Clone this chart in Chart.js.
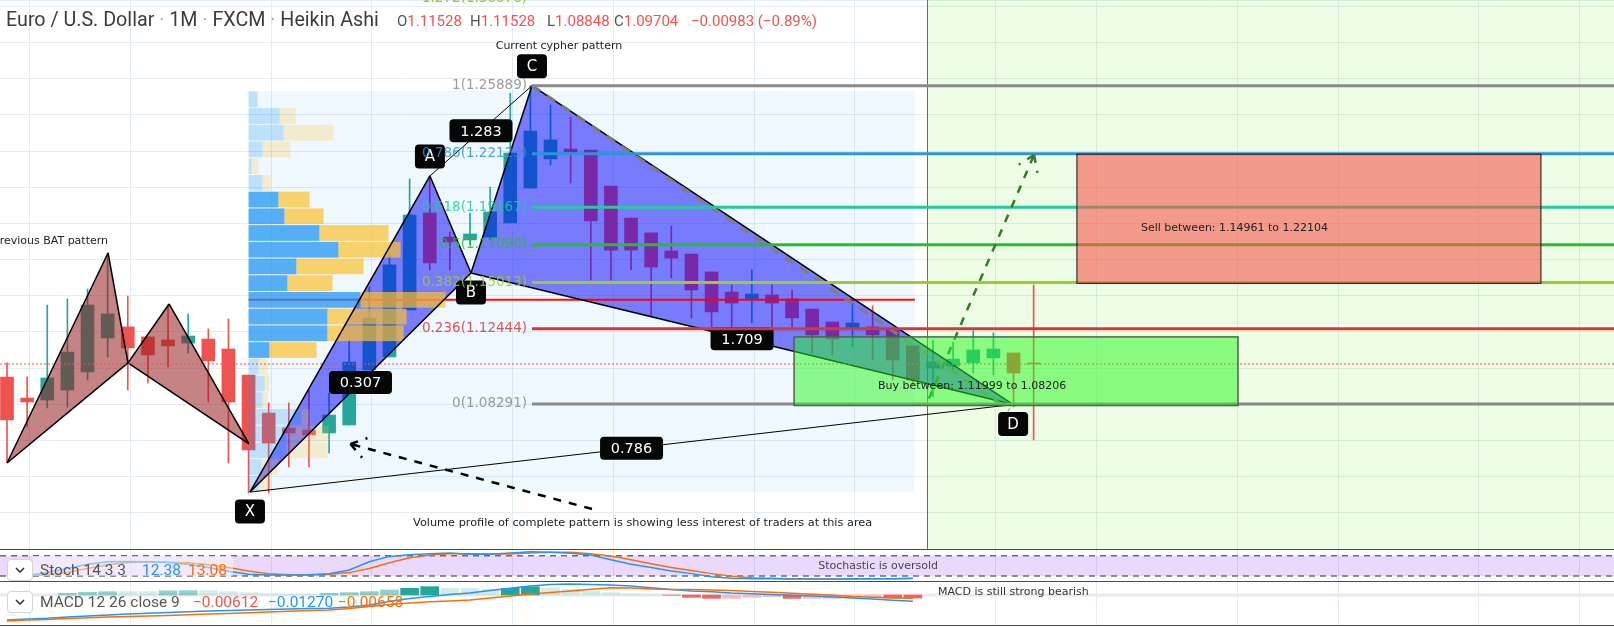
<!DOCTYPE html>
<html>
<head>
<meta charset="utf-8">
<title>EURUSD 1M cypher</title>
<script src="https://cdn.jsdelivr.net/npm/chart.js@4.4.1/dist/chart.umd.min.js"></script>
<style>
  html, body { margin: 0; padding: 0; background: #fff; }
  #wrap { position: relative; width: 1614px; height: 627px; overflow: hidden; font-family: Roboto, sans-serif; }
  canvas { position: absolute; left: 0; }
  .sep { position: absolute; left: 0; width: 1614px; height: 1px; background: #4a4a4a; }
  .t { position: absolute; white-space: nowrap; line-height: 1; }
  .btn { position: absolute; left: 7px; width: 24px; height: 20px; border: 1px solid #d4d4d4; border-radius: 4px; background: #fff; }
  .btn svg { position: absolute; left: 7px; top: 7px; }
</style>
</head>
<body>
<div id="wrap">
  <canvas id="main" width="1614" height="549" style="top:0"></canvas>
  <canvas id="stoch" width="1614" height="31" style="top:550px"></canvas>
  <canvas id="macd" width="1614" height="43" style="top:582px"></canvas>
  <div class="sep" style="top:549px"></div>
  <div class="sep" style="top:581px"></div>
  <div class="sep" style="top:625px"></div>

  <div class="t" style="left:6px;top:10px;font-size:19.7px;color:#3c3c3c">Euro / U.S. Dollar <span style="color:#aaa">·</span> 1M <span style="color:#aaa">·</span> FXCM <span style="color:#aaa">·</span> Heikin Ashi</div>
  <div class="t" style="left:397px;top:14px;font-size:15px;color:#555">O<span style="color:#ef5350">1.11528</span></div>
  <div class="t" style="left:470px;top:14px;font-size:15px;color:#555">H<span style="color:#ef5350">1.11528</span></div>
  <div class="t" style="left:547px;top:14px;font-size:15px;color:#555">L<span style="color:#ef5350">1.08848</span></div>
  <div class="t" style="left:614px;top:14px;font-size:15px;color:#555">C<span style="color:#ef5350">1.09704</span></div>
  <div class="t" style="left:691px;top:14px;font-size:15px;color:#ef5350">−0.00983 (−0.89%)</div>

  <div style="position:absolute;left:33px;top:556px;width:200px;height:20px;background:rgba(255,255,255,0.45)"></div>
  <div class="btn" style="top:559px"><svg width="10" height="6"><polyline points="1,1 5,5 9,1" fill="none" stroke="#333" stroke-width="1.6"/></svg></div>
  <div class="t" style="left:40px;top:563px;font-size:15.5px;color:#555">Stoch 14 3 3</div>
  <div class="t" style="left:142px;top:563px;font-size:15.5px;color:#2196f3">12.38</div>
  <div class="t" style="left:188px;top:563px;font-size:15.5px;color:#ff6d00">13.08</div>

  <div class="btn" style="top:591px"><svg width="10" height="6"><polyline points="1,1 5,5 9,1" fill="none" stroke="#333" stroke-width="1.6"/></svg></div>
  <div class="t" style="left:40px;top:595px;font-size:15.5px;color:#555">MACD 12 26 close 9</div>
  <div class="t" style="left:193px;top:595px;font-size:15.5px;color:#ef5350">−0.00612</div>
  <div class="t" style="left:268px;top:595px;font-size:15.5px;color:#2196f3">−0.01270</div>
  <div class="t" style="left:338px;top:595px;font-size:15.5px;color:#ff6d00">−0.00658</div>
</div>

<script>
// monthly Heikin Ashi candles
const openP  = [1.0978,1.0862,1.0851,1.0906,1.1006,1.1194,1.1255,1.1200,1.1183,1.1166,1.1188,1.1133,1.0989,1.0779,1.0696,1.0685,1.0669,1.0713,1.1017,1.1089,1.1349,1.1885,1.1752,1.1736,1.1752,1.1830,1.2023,1.2184,1.2239,1.2233,1.2034,1.1857,1.1775,1.1675,1.1658,1.1559,1.1448,1.1410,1.1432,1.1410,1.1354,1.1282,1.1249,1.1255,1.1238,1.1150,1.1028,1.1039,1.1056,1.1084,1.1111,1.1056];
const highP  = [1.1056,1.0978,1.1376,1.1410,1.1465,1.1664,1.1426,1.1200,1.1376,1.1327,1.1244,1.1299,1.0989,1.0835,1.0835,1.0906,1.0890,1.1183,1.1476,1.1653,1.2073,1.2090,1.1780,1.1885,1.2029,1.2548,1.2589,1.2482,1.2416,1.2233,1.2034,1.1857,1.1775,1.1813,1.1658,1.1559,1.1487,1.1570,1.1487,1.1459,1.1354,1.1282,1.1404,1.1371,1.1249,1.1150,1.1183,1.1172,1.1233,1.1222,1.1111,1.1487];
const lowP   = [1.0508,1.0702,1.0807,1.0812,1.0962,1.1089,1.0906,1.0945,1.1034,1.1111,1.0840,1.0503,1.0337,1.0337,1.0481,1.0481,1.0558,1.0713,1.1017,1.1089,1.1349,1.1570,1.1570,1.1708,1.1736,1.1830,1.2023,1.2150,1.2051,1.1515,1.1515,1.1570,1.1310,1.1526,1.1304,1.1255,1.1255,1.1277,1.1255,1.1255,1.1111,1.1100,1.1145,1.1072,1.0962,1.0934,1.0868,1.1006,1.1000,1.0989,1.0813,1.0630];
const closeP = [1.0741,1.0840,1.0973,1.1116,1.1376,1.1327,1.1139,1.1100,1.1150,1.1205,1.1067,1.0840,1.0575,1.0613,1.0669,1.0658,1.0768,1.1061,1.1304,1.1598,1.1874,1.1609,1.1725,1.1769,1.1891,1.2217,1.2338,1.2289,1.2222,1.1841,1.1680,1.1680,1.1586,1.1636,1.1459,1.1338,1.1387,1.1437,1.1387,1.1305,1.1211,1.1188,1.1277,1.1211,1.1072,1.0962,1.1061,1.1078,1.1128,1.1133,1.1000,1.1050];
const lastPrice = 1.10501;

// stochastic 14 3 3
const stochK = [20,21,30,42,55,62,63,62,60,55,45,34,25,23,23,24,27,38,62,78,83,86,88,84,84,88,92,90,87,82,68,55,45,35,27,18,13,12,12,11,11,11,12,12,12,12.38];
const stochD = [22,21,24,31,42,53,60,62,61,59,53,45,35,27,24,23,25,30,42,59,74,82,86,86,85,85,88,90,90,86,79,68,56,45,36,27,19,15,13,12,12,11,11,12,12,13.08];
const stochUpper = 80, stochLower = 20;

// MACD 12 26 9
const macdLine   = [-0.050,-0.048,-0.0465,-0.044,-0.042,-0.040,-0.038,-0.0365,-0.035,-0.0335,-0.032,-0.031,-0.030,-0.029,-0.028,-0.027,-0.0265,-0.024,-0.020,-0.013,-0.007,-0.003,0.001,0.004,0.009,0.0135,0.018,0.021,0.022,0.021,0.020,0.018,0.0145,0.011,0.008,0.0065,0.004,0.0025,0.001,-0.0005,-0.002,-0.004,-0.006,-0.008,-0.0105,-0.0127];
const signalLine = [-0.052,-0.050,-0.049,-0.047,-0.0455,-0.044,-0.043,-0.042,-0.041,-0.0395,-0.038,-0.037,-0.0355,-0.034,-0.0325,-0.031,-0.030,-0.027,-0.023,-0.019,-0.016,-0.0135,-0.012,-0.010,-0.006,-0.002,0.002,0.005,0.008,0.0115,0.0146,0.014,0.0118,0.0112,0.0108,0.010,0.0088,0.0072,0.0055,0.0035,0.0014,-0.0005,-0.003,-0.0045,-0.0058,-0.00658];
const macdHist   = [null,null,null,0.0033,0.0053,0.0067,0.0067,0.0067,0.0083,0.0087,0.0087,0.0067,0.0047,0.002,0.0013,0.0008,0.0033,0.0047,0.0067,0.010,0.0133,0.0167,0.0133,0.0133,0.0113,0.0133,0.0167,0.0147,0.0113,0.0087,0.0047,0.002,0.0004,-0.0004,-0.0047,-0.0067,-0.0067,-0.0047,-0.0033,-0.0067,-0.0067,-0.0067,-0.0047,-0.0033,-0.0058,-0.00612];

// fibonacci retracement of the cypher
const fibRatio = [1, 0.786, 0.618, 0.5, 0.382, 0.236, 0];
const fibPrice = [1.25889, 1.22123, 1.19167, 1.17090, 1.15013, 1.12444, 1.08291];
const fibColor = ['#8a8a8a', '#2a96d4', '#26c99a', '#27be2a', '#9fca2c', '#d13a3a', '#8a8a8a'];
const fibExtRatio = 1.272, fibExtPrice = 1.30076;

// harmonic patterns (candle index, price)
const batIdx = [0, 5.02, 6.01, 8.05, 12.02];
const batPrice = [1.0503, 1.1664, 1.1056, 1.1382, 1.0608];
const cypherIdx = [12.07, 21.01, 23.05, 26.08, 49.98];
const cypherPrice = [1.0342, 1.2090, 1.1553, 1.25889, 1.0826];
const cypherNames = ['X', 'A', 'B', 'C', 'D'];
const cypherRatios = [[0, 2, '0.307'], [1, 3, '1.283'], [2, 4, '1.709'], [0, 4, '0.786']];
const trendIdx = [26.08, 49.78], trendPrice = [1.25889, 1.0796];

// volume profile over the pattern, rows from top to bottom
const vpStart = 12.0, vpEnd = 45.1, vpTop = 1.2560, vpBottom = 1.0342;
const vpUp   = [9,31,35,14,3,14,30,36,71,90,48,39,112,79,79,21,10,16,14,53,38,38,13,10];
const vpDown = [0,16,50,28,7,8,31,39,69,62,67,45,85,79,76,47,9,5,5,8,42,41,16,10];
const vpValueArea = [6, 15], vpPoc = 12;

// zones
const buyIdx = [39.1, 61.15], buyPrice = [1.11999, 1.08206];
const sellIdx = [53.15, 76.2], sellPrice = [1.22104, 1.14961];
const rangeStart = 45.7;
const gridIdx = [1, 6, 13, 18, 25, 30, 37, 42, 49, 54, 61, 66, 73, 78];

const xMin = -0.348, xMax = 79.83;
const gridColor = '#e3ecf3';
const UP = '#26a69a', DOWN = '#ef5350';

const px = (c, v) => c.scales.x.getPixelForValue(v);
const py = (c, v) => c.scales.y.getPixelForValue(v);

function seg(ctx, a, b) {
  ctx.beginPath(); ctx.moveTo(a[0], a[1]); ctx.lineTo(b[0], b[1]); ctx.stroke();
}
function tri(ctx, a, b, c) {
  ctx.beginPath(); ctx.moveTo(a[0], a[1]); ctx.lineTo(b[0], b[1]); ctx.lineTo(c[0], c[1]); ctx.closePath();
}
function arrow(ctx, from, to) {
  seg(ctx, from, to);
  const ang = Math.atan2(from[1] - to[1], from[0] - to[0]);
  [-0.6, 0.6].forEach(d => seg(ctx, to, [to[0] + 18 * Math.cos(ang + d), to[1] + 18 * Math.sin(ang + d)]));
}
function tag(ctx, text, x, y, w, h, font) {
  ctx.fillStyle = '#060606';
  ctx.beginPath(); ctx.roundRect(x - w / 2, y - h / 2, w, h, 4); ctx.fill();
  ctx.fillStyle = '#fff'; ctx.font = font; ctx.textAlign = 'center'; ctx.textBaseline = 'middle';
  ctx.fillText(text, x, y + 1);
}
function text(ctx, s, x, y, align, color, font) {
  ctx.fillStyle = color; ctx.font = font || '11px "DejaVu Sans"';
  ctx.textAlign = align; ctx.textBaseline = 'middle';
  ctx.fillText(s, x, y);
}

const xAxis = () => ({
  type: 'linear', min: xMin, max: xMax, offset: false, bounds: 'data',
  grid: { color: gridColor, drawTicks: false, offset: false },
  border: { display: false },
  ticks: { display: false },
  afterBuildTicks: s => { s.ticks = gridIdx.map(v => ({ value: v + 0.12 })); }
});

const drawings = {
  id: 'drawings',
  beforeDatasetsDraw(chart) {
    const ctx = chart.ctx, a = chart.chartArea;
    ctx.save();
    const vx0 = px(chart, vpStart), vx1 = px(chart, vpEnd), vy0 = py(chart, vpTop), vy1 = py(chart, vpBottom);
    ctx.fillStyle = 'rgba(33,150,243,0.07)';
    ctx.fillRect(vx0, vy0, vx1 - vx0, vy1 - vy0);
    const gx = Math.round(px(chart, rangeStart)) + 0.5;
    ctx.fillStyle = 'rgba(80,240,0,0.1)';
    ctx.fillRect(gx, a.top, a.right - gx, a.bottom - a.top);
    ctx.strokeStyle = '#3f8f2f'; ctx.lineWidth = 1;
    seg(ctx, [gx, a.top], [gx, a.bottom]);
    ctx.restore();
  },
  afterDatasetsDraw(chart) {
    const ctx = chart.ctx, a = chart.chartArea;
    const bat = batIdx.map((v, k) => [px(chart, v), py(chart, batPrice[k])]);
    const cy = cypherIdx.map((v, k) => [px(chart, v), py(chart, cypherPrice[k])]);
    const edges = [[0, 1], [1, 2], [0, 2], [2, 3], [3, 4], [2, 4]];
    ctx.save();

    // previous bat pattern
    ctx.fillStyle = 'rgba(150,30,30,0.55)';
    tri(ctx, bat[0], bat[1], bat[2]); ctx.fill();
    tri(ctx, bat[2], bat[3], bat[4]); ctx.fill();
    ctx.strokeStyle = '#000'; ctx.lineWidth = 1.5;
    edges.forEach(([m, n]) => seg(ctx, bat[m], bat[n]));

    // cypher fill
    ctx.fillStyle = 'rgba(0,0,255,0.5)';
    tri(ctx, cy[0], cy[1], cy[2]); ctx.fill();
    tri(ctx, cy[2], cy[3], cy[4]); ctx.fill();

    // volume profile
    const rowH = (vpTop - vpBottom) / vpUp.length;
    const unit = 1 / 20.13;
    const x0 = px(chart, vpStart);
    ctx.strokeStyle = 'rgba(255,0,0,0.95)'; ctx.lineWidth = 2;
    const pocY = py(chart, vpTop - (vpPoc + 0.5) * rowH);
    seg(ctx, [x0, pocY], [px(chart, vpEnd), pocY]);
    vpUp.forEach((u, r) => {
      const yt = py(chart, vpTop - r * rowH) + 0.5, yb = py(chart, vpTop - (r + 1) * rowH) - 0.5;
      const inVa = r >= vpValueArea[0] && r <= vpValueArea[1];
      const xu = px(chart, vpStart + u * unit), xd = px(chart, vpStart + (u + vpDown[r]) * unit);
      ctx.fillStyle = inVa ? 'rgba(33,150,243,0.75)' : 'rgba(33,150,243,0.24)';
      ctx.fillRect(x0, yt, xu - x0, yb - yt);
      ctx.fillStyle = inVa ? 'rgba(251,192,45,0.7)' : 'rgba(251,192,45,0.23)';
      ctx.fillRect(xu, yt, xd - xu, yb - yt);
    });

    // cypher lines
    ctx.strokeStyle = '#000'; ctx.lineWidth = 1.5;
    edges.forEach(([m, n]) => seg(ctx, cy[m], cy[n]));
    ctx.lineWidth = 1;
    seg(ctx, cy[0], cy[4]); seg(ctx, cy[1], cy[3]);

    ctx.setLineDash([10, 8]); ctx.strokeStyle = 'rgba(128,128,128,0.9)'; ctx.lineWidth = 3.5;
    seg(ctx, [px(chart, trendIdx[0]), py(chart, trendPrice[0])], [px(chart, trendIdx[1]), py(chart, trendPrice[1])]);
    ctx.setLineDash([]);

    // pattern labels
    cypherRatios.forEach(([m, n, s]) => tag(ctx, s, (cy[m][0] + cy[n][0]) / 2, (cy[m][1] + cy[n][1]) / 2, 63, 23, '14.5px "DejaVu Sans"'));
    cy.forEach((p, k) => tag(ctx, cypherNames[k], p[0], p[1] + (k % 2 ? -19.5 : 19.5), 30, 24, '15px "DejaVu Sans"'));

    // fib levels
    const fx = cy[3][0];
    fibPrice.forEach((p, k) => {
      const y = py(chart, p);
      ctx.strokeStyle = fibColor[k]; ctx.lineWidth = 3;
      seg(ctx, [fx, y], [a.right, y]);
      ctx.globalAlpha = 0.85;
      text(ctx, `${fibRatio[k]}(${p.toFixed(5)})`, fx - 5, y, 'right', fibColor[k], '13.5px "DejaVu Sans"');
      ctx.globalAlpha = 1;
    });
    text(ctx, `${fibExtRatio}(${fibExtPrice.toFixed(5)})`, fx - 5, py(chart, fibExtPrice) - 11, 'right', '#8cc63f', '13.5px "DejaVu Sans"');

    // last price line
    const lp = py(chart, lastPrice);
    ctx.setLineDash([2, 2]); ctx.strokeStyle = '#ef5350'; ctx.lineWidth = 1;
    seg(ctx, [a.left, lp], [a.right, lp]);

    // arrows
    ctx.setLineDash([8, 8]); ctx.strokeStyle = '#357a2a'; ctx.lineWidth = 2.5;
    arrow(ctx, [px(chart, 45.8), py(chart, 1.086)], [px(chart, 51.02), py(chart, 1.22057)]);
    ctx.strokeStyle = '#000';
    arrow(ctx, [px(chart, 29.06), py(chart, 1.02485)], [px(chart, 17.06), py(chart, 1.06078)]);
    ctx.setLineDash([]);

    // buy / sell zones
    let bx0 = px(chart, buyIdx[0]), bx1 = px(chart, buyIdx[1]), by0 = py(chart, buyPrice[0]), by1 = py(chart, buyPrice[1]);
    ctx.fillStyle = 'rgba(40,250,30,0.5)'; ctx.fillRect(bx0, by0, bx1 - bx0, by1 - by0);
    ctx.strokeStyle = '#4d654d'; ctx.lineWidth = 1.5; ctx.strokeRect(bx0, by0, bx1 - bx0, by1 - by0);
    bx0 = px(chart, sellIdx[0]); bx1 = px(chart, sellIdx[1]); by0 = py(chart, sellPrice[0]); by1 = py(chart, sellPrice[1]);
    ctx.fillStyle = 'rgba(249,88,77,0.6)'; ctx.fillRect(bx0, by0, bx1 - bx0, by1 - by0);
    ctx.strokeStyle = '#111'; ctx.lineWidth = 1; ctx.strokeRect(bx0, by0, bx1 - bx0, by1 - by0);

    text(ctx, 'Sell between: 1.14961 to 1.22104', px(chart, 56.33), py(chart, 1.1802), 'left', '#222');
    text(ctx, 'Buy between: 1.11999 to 1.08206', px(chart, 43.27), py(chart, 1.0929), 'left', '#222');
    text(ctx, 'Previous BAT pattern', px(chart, 5.02), py(chart, 1.1730), 'right', '#222');
    text(ctx, 'Current cypher pattern', px(chart, 27.42), py(chart, 1.2808), 'center', '#222');
    text(ctx, 'Volume profile of complete pattern is showing less interest of traders at this area', px(chart, 20.17), py(chart, 1.0171), 'left', '#222', '11.3px "DejaVu Sans"');
    ctx.restore();
  }
};

const idx = openP.map((_, i) => i);
const candleColor = idx.map(i => closeP[i] >= openP[i] ? UP : DOWN);

new Chart(document.getElementById('main'), {
  type: 'bar',
  data: {
    datasets: [
      { label: 'wick', data: idx.map(i => ({ x: i, y: [lowP[i], highP[i]] })), backgroundColor: candleColor, barThickness: 1, grouped: false, order: 2 },
      { label: 'body', data: idx.map(i => ({ x: i, y: [openP[i], closeP[i]] })), backgroundColor: candleColor, barThickness: 13, minBarLength: 1, grouped: false, order: 1 }
    ]
  },
  options: {
    responsive: false, animation: false, events: [],
    layout: { padding: 0 },
    plugins: { legend: { display: false }, tooltip: { enabled: false } },
    scales: {
      x: xAxis(),
      y: {
        min: 1.00273, max: 1.30627, bounds: 'data',
        grid: { color: gridColor, drawTicks: false },
        border: { display: false },
        ticks: { display: false, stepSize: 0.02, includeBounds: false }
      }
    }
  },
  plugins: [drawings]
});

const stochBand = {
  id: 'stochBand',
  beforeDatasetsDraw(chart) {
    const ctx = chart.ctx, a = chart.chartArea;
    const yU = py(chart, stochUpper), yL = py(chart, stochLower);
    ctx.save();
    ctx.fillStyle = 'rgba(150,60,255,0.2)';
    ctx.fillRect(a.left, yU, a.right - a.left, yL - yU);
    ctx.strokeStyle = '#6d6b78'; ctx.lineWidth = 1.5; ctx.setLineDash([6, 5]);
    seg(ctx, [a.left, yU], [a.right, yU]);
    seg(ctx, [a.left, yL], [a.right, yL]);
    ctx.restore();
  },
  afterDatasetsDraw(chart) {
    const ctx = chart.ctx;
    ctx.save();
    text(ctx, 'Stochastic is oversold', px(chart, 46.25), py(chart, 50), 'right', '#4a4458');
    ctx.restore();
  }
};

new Chart(document.getElementById('stoch'), {
  type: 'line',
  data: {
    datasets: [
      { data: stochK.map((v, i) => ({ x: i, y: v })), borderColor: '#2196f3', borderWidth: 1.5, pointRadius: 0 },
      { data: stochD.map((v, i) => ({ x: i, y: v })), borderColor: '#ff6d00', borderWidth: 1.5, pointRadius: 0 }
    ]
  },
  options: {
    responsive: false, animation: false, events: [],
    layout: { padding: 0 },
    plugins: { legend: { display: false }, tooltip: { enabled: false } },
    scales: { x: xAxis(), y: { min: 5.2, max: 96.9, display: false } }
  },
  plugins: [stochBand]
});

const histColor = macdHist.map((h, i) => {
  const prev = i > 0 && macdHist[i - 1] != null ? macdHist[i - 1] : 0;
  if (h == null) return 'transparent';
  if (h >= 0) return h > prev ? (h > 0.0125 ? '#26a69a' : 'rgba(38,166,154,0.5)') : 'rgba(178,223,219,0.6)';
  return h < prev ? 'rgba(239,83,80,0.9)' : 'rgba(248,180,184,0.9)';
});

const macdZero = {
  id: 'macdZero',
  beforeDatasetsDraw(chart) {
    const ctx = chart.ctx, a = chart.chartArea, y = py(chart, 0);
    ctx.save();
    ctx.strokeStyle = '#e8eaf0'; ctx.lineWidth = 3;
    seg(ctx, [a.left, y], [a.right, y]);
    ctx.restore();
  },
  afterDatasetsDraw(chart) {
    const ctx = chart.ctx;
    ctx.save();
    text(ctx, 'MACD is still strong bearish', px(chart, 46.25), py(chart, 0.006), 'left', '#333');
    ctx.restore();
  }
};

new Chart(document.getElementById('macd'), {
  type: 'bar',
  data: {
    datasets: [
      { type: 'bar', data: macdHist.map((v, i) => ({ x: i, y: v })), backgroundColor: histColor, barThickness: 18, order: 3 },
      { type: 'line', data: macdLine.map((v, i) => ({ x: i, y: v })), borderColor: '#2196f3', borderWidth: 1.5, pointRadius: 0, order: 2 },
      { type: 'line', data: signalLine.map((v, i) => ({ x: i, y: v })), borderColor: '#ff6d00', borderWidth: 1.5, pointRadius: 0, order: 1 }
    ]
  },
  options: {
    responsive: false, animation: false, events: [],
    layout: { padding: 0 },
    plugins: { legend: { display: false }, tooltip: { enabled: false } },
    scales: { x: xAxis(), y: { min: -0.060, max: 0.026, display: false } }
  },
  plugins: [macdZero]
});
</script>
</body>
</html>
